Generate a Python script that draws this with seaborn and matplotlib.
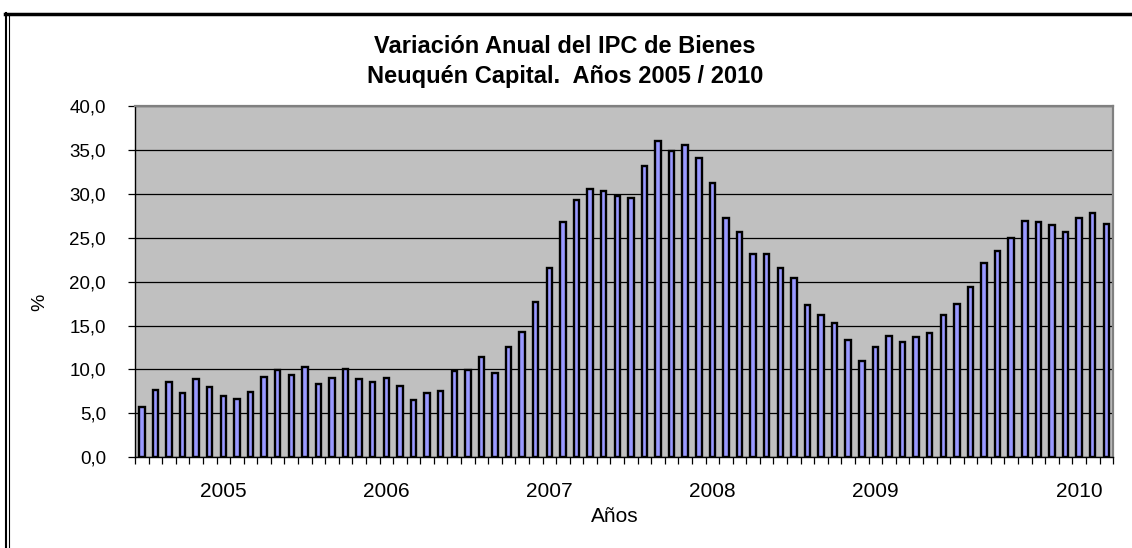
import matplotlib
matplotlib.use("Agg")
import matplotlib.pyplot as plt
import seaborn as sns
import pandas as pd
import numpy as np
from matplotlib.lines import Line2D

# Datos: variacion anual mensual del IPC de bienes (%)
meses = list(pd.date_range("2005-01", periods=72, freq="MS").strftime("%Y-%m"))
variacion = [
    5.7, 7.7, 8.6, 7.3, 8.9, 8.0, 7.0, 6.6, 7.4, 9.2, 9.9, 9.4,          # 2005
    10.3, 8.3, 9.0, 10.0, 8.9, 8.6, 9.0, 8.1, 6.5, 7.3, 7.6, 9.8,        # 2006
    9.9, 11.4, 9.6, 12.6, 14.3, 17.7, 21.5, 26.8, 29.3, 30.6, 30.3, 29.8,  # 2007
    29.5, 33.2, 36.0, 34.9, 35.6, 34.1, 31.2, 27.3, 25.6, 23.1, 23.2, 21.5,  # 2008
    20.4, 17.3, 16.2, 15.3, 13.4, 11.0, 12.6, 13.8, 13.1, 13.7, 14.2, 16.2,  # 2009
    17.5, 19.4, 22.1, 23.5, 25.0, 26.9, 26.8, 26.5, 25.7, 27.2, 27.8, 26.6,  # 2010
]
anios = ["2005", "2006", "2007", "2008", "2009", "2010"]
meses_etiqueta = ["2005-07", "2006-07", "2007-07", "2008-07", "2009-07", "2010-10"]

df = pd.DataFrame({"mes": meses, "variacion": variacion})

plt.rcParams["font.family"] = ["Liberation Sans", "DejaVu Sans"]

fig = plt.figure(figsize=(11.32, 5.48), dpi=100)
ax = fig.add_axes([0.1193, 0.1655, 0.8640, 0.6411])

sns.barplot(data=df, x="mes", y="variacion", color="#9999FF", saturation=1,
            width=0.4, edgecolor="black", linewidth=1.7, ax=ax)

ax.set_facecolor("#C0C0C0")
ax.set_xlim(-0.5, len(meses) - 0.5)
ax.set_ylim(0, 40)

# eje y
yt = np.arange(0, 40.1, 5)
ax.set_yticks(yt)
ax.set_yticklabels([f"{v:.1f}".replace(".", ",") for v in yt], fontsize=13.5)
ax.yaxis.grid(True, color="black", linewidth=0.9)
ax.set_axisbelow(True)
ax.tick_params(axis="y", length=5, width=0.9, pad=16)

# eje x: etiquetas de años y marcas entre meses
ax.set_xticks([meses.index(m) for m in meses_etiqueta])
ax.set_xticklabels(anios, fontsize=15)
ax.set_xticks(np.arange(-0.5, len(meses), 1), minor=True)
ax.tick_params(axis="x", which="major", length=0, pad=18)
ax.tick_params(axis="x", which="minor", length=5, width=0.9)

ax.set_xlabel("Años", fontsize=15)
ax.set_ylabel("%", fontsize=14)
ax.xaxis.set_label_coords(0.49, -0.142)
ax.yaxis.set_label_coords(-0.089, 0.44)

for s in ["left", "bottom"]:
    ax.spines[s].set_color("black")
    ax.spines[s].set_linewidth(1.0)
for s in ["top", "right"]:
    ax.spines[s].set_color("#808080")
    ax.spines[s].set_linewidth(1.6)

fig.text(0.499, 0.888, "Variación Anual del IPC de Bienes\nNeuquén Capital.  Años 2005 / 2010",
         ha="center", va="center", fontsize=17, fontweight="bold", linespacing=1.38)

# marco de la figura
fig.add_artist(Line2D([5 / 1132, 1], [1 - 14 / 548] * 2, transform=fig.transFigure,
                      color="black", linewidth=2.5))
fig.add_artist(Line2D([5.5 / 1132] * 2, [0, 1 - 13 / 548], transform=fig.transFigure,
                      color="black", linewidth=1.5))
fig.add_artist(Line2D([8.5 / 1132] * 2, [0, 1 - 15 / 548], transform=fig.transFigure,
                      color="black", linewidth=0.8))

fig.savefig("out.png", dpi=100)
